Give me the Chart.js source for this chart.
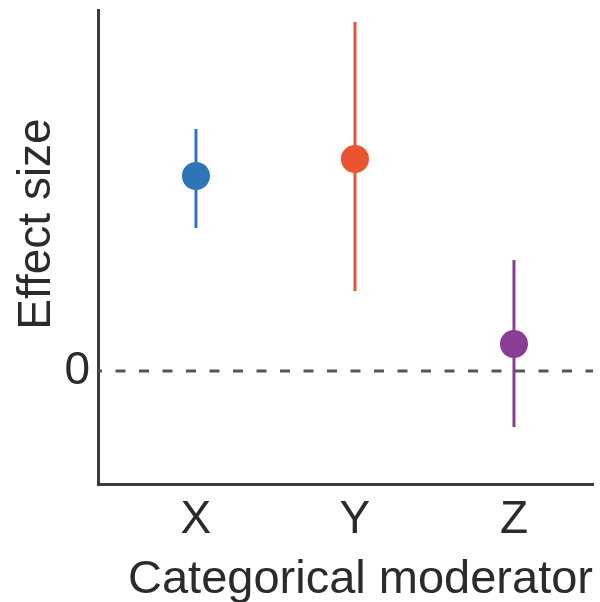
<!DOCTYPE html>
<html>
<head>
<meta charset="utf-8">
<script src="https://cdn.jsdelivr.net/npm/chart.js@4"></script>
<style>
  html, body { margin: 0; padding: 0; background: #fff; }
  #wrap { width: 600px; height: 602px; }
</style>
</head>
<body>
<div id="wrap"><canvas id="chart" width="600" height="602"></canvas></div>
<script>
// data
const categories = ['X', 'Y', 'Z'];
const effectSize = [1.95, 2.12, 0.27];
const ciLow = [1.43, 0.80, -0.56];
const ciHigh = [2.42, 3.49, 1.11];
const pointColors = ['#2F73B9', '#EA5430', '#8A3E93'];
const yTickValues = [0];

const X_MIN = 0.384, X_MAX = 3.497;
const FONT = 'Liberation Sans, Arial, Helvetica, sans-serif';
const TEXT = '#2b2b2b';
const AXIS = '#3c3c3c';

// one small line for each confidence interval
const errorBars = categories.map(function(c, i) {
  return {
    type: 'scatter',
    data: [{ x: i + 1, y: ciLow[i] }, { x: i + 1, y: ciHigh[i] }],
    showLine: true,
    borderColor: pointColors[i],
    borderWidth: 3,
    pointRadius: 0,
    order: 1
  };
});

const points = {
  type: 'scatter',
  data: categories.map(function(c, i) { return { x: i + 1, y: effectSize[i] }; }),
  backgroundColor: pointColors,
  borderColor: pointColors,
  pointRadius: 14,
  pointHoverRadius: 14,
  borderWidth: 0,
  order: 0
};

const zeroLine = {
  type: 'scatter',
  data: [{ x: X_MIN, y: 0 }, { x: X_MAX, y: 0 }],
  showLine: true,
  borderColor: '#555',
  borderWidth: 3,
  borderDash: [10, 13.5],
  borderDashOffset: 6,
  pointRadius: 0,
  order: 2
};

// y title sits a bit above the middle in the reference, so it is drawn here
const yTitle = {
  id: 'yTitle',
  afterDraw: function(chart) {
    const ctx = chart.ctx;
    ctx.save();
    ctx.translate(50, 224);
    ctx.rotate(-Math.PI / 2);
    ctx.fillStyle = TEXT;
    ctx.font = '46px ' + FONT;
    ctx.textAlign = 'center';
    ctx.textBaseline = 'alphabetic';
    ctx.fillText('Effect size', 0, 0);
    ctx.restore();
  }
};

function noScalePadding(scale) {
  scale.paddingTop = 0;
  scale.paddingBottom = 0;
  scale.paddingLeft = 0;
  scale.paddingRight = 0;
}

new Chart(document.getElementById('chart'), {
  type: 'scatter',
  data: { datasets: [points].concat(errorBars, [zeroLine]) },
  options: {
    responsive: false,
    devicePixelRatio: 1,
    animation: false,
    layout: { autoPadding: false, padding: { top: 10, right: 7, left: 0, bottom: 0 } },
    plugins: { legend: { display: false }, tooltip: { enabled: false } },
    scales: {
      x: {
        type: 'linear',
        min: X_MIN,
        max: X_MAX,
        afterBuildTicks: function(scale) {
          scale.ticks = categories.map(function(c, i) { return { value: i + 1 }; });
        },
        afterFit: function(scale) { scale.height = 118; noScalePadding(scale); },
        grid: { display: false, drawTicks: false },
        border: { display: true, color: AXIS, width: 3 },
        ticks: {
          padding: 9,
          color: TEXT,
          font: { family: FONT, size: 46 },
          callback: function(v) { return categories[v - 1]; }
        },
        title: {
          display: true,
          text: 'Categorical moderator',
          align: 'end',
          color: TEXT,
          font: { family: FONT, size: 47, lineHeight: 1 },
          padding: { top: 0, bottom: -2 }
        }
      },
      y: {
        min: -1.13,
        max: 3.61,
        afterBuildTicks: function(scale) {
          scale.ticks = yTickValues.map(function(v) { return { value: v }; });
        },
        afterFit: function(scale) { scale.width = 98; noScalePadding(scale); },
        grid: { display: false, drawTicks: false },
        border: { display: true, color: AXIS, width: 3 },
        ticks: {
          padding: 8,
          color: TEXT,
          font: { family: FONT, size: 46 },
          callback: function(v) { return String(v); }
        }
      }
    }
  },
  plugins: [yTitle]
});
</script>
</body>
</html>
